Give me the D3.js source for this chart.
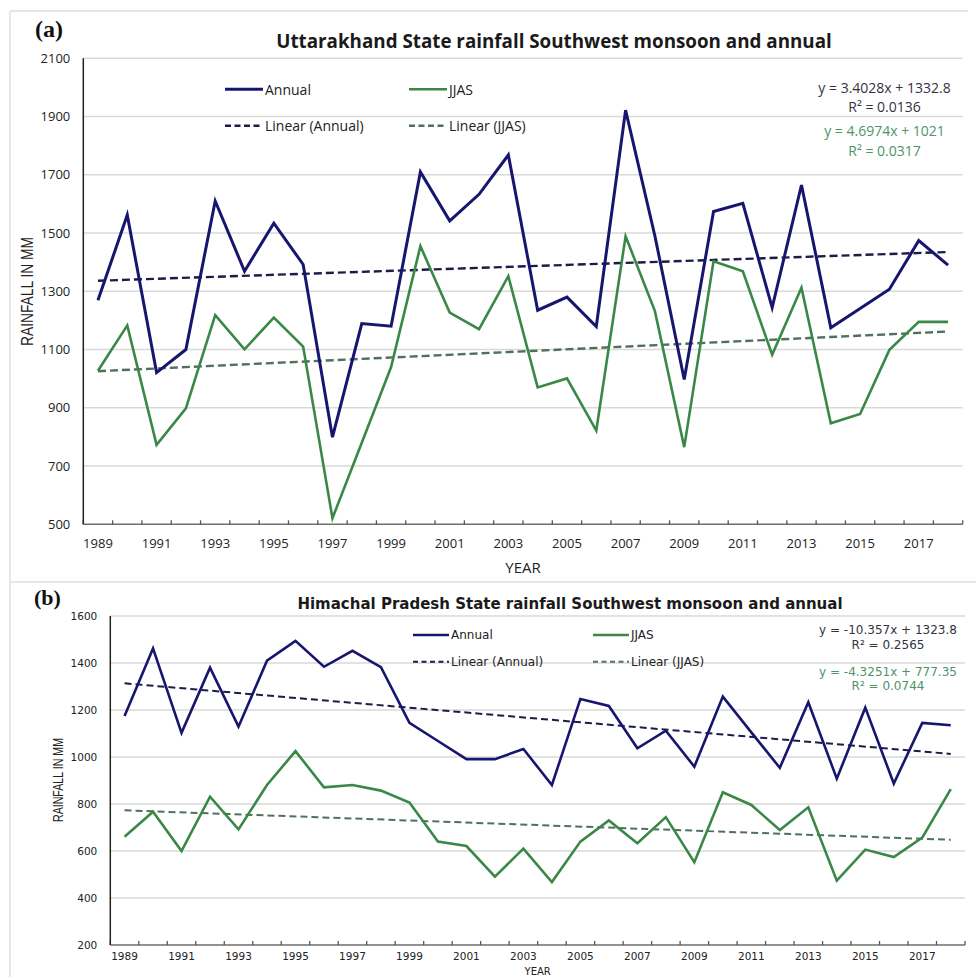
<!DOCTYPE html>
<html>
<head>
<meta charset="utf-8">
<script src="https://cdn.jsdelivr.net/npm/d3@7/dist/d3.min.js"></script>
<style>
  html, body { margin: 0; padding: 0; background: #ffffff; }
  svg { display: block; }
</style>
</head>
<body>
<div id="chart"></div>
<script>
// Rainfall series, 1989–2018 (mm)
const years = [1989,1990,1991,1992,1993,1994,1995,1996,1997,1998,1999,2000,2001,2002,2003,
               2004,2005,2006,2007,2008,2009,2010,2011,2012,2013,2014,2015,2016,2017,2018];
const yearLabels = [1989,1991,1993,1995,1997,1999,2001,2003,2005,2007,2009,2011,2013,2015,2017];

// (a) Uttarakhand
const ukAnnual = [1269,1562,1021,1100,1610,1369,1534,1392,799,1189,1180,1710,1542,1633,1768,
                  1235,1280,1179,1922,1490,997,1574,1602,1244,1665,1175,1241,1307,1474,1390];
const ukJJAS   = [1027,1183,773,898,1218,1101,1210,1110,521,780,1040,1455,1227,1170,1352,
                  970,1001,822,1489,1232,765,1403,1369,1082,1312,847,879,1099,1195,1195];
const ukTicks  = [500,700,900,1100,1300,1500,1700,1900,2100];
const ukTrendAnnual = { slope: 3.4028, intercept: 1332.8, r2: "0.0136", text: "y = 3.4028x + 1332.8" };
const ukTrendJJAS   = { slope: 4.6974, intercept: 1021,   r2: "0.0317", text: "y = 4.6974x + 1021" };

// (b) Himachal Pradesh
const hpAnnual = [1174,1462,1103,1380,1129,1410,1494,1384,1452,1382,1145,1068,991,991,1034,
                  881,1247,1217,1037,1112,959,1257,1105,954,1233,908,1210,887,1145,1135];
const hpJJAS   = [661,767,600,831,692,881,1025,871,881,857,806,640,621,491,610,
                  468,640,730,633,744,552,850,796,689,786,474,606,574,657,863];
const hpTicks  = [200,400,600,800,1000,1200,1400,1600];
const hpTrendAnnual = { slope: -10.357, intercept: 1323.8, r2: "0.2565", text: "y = -10.357x + 1323.8" };
const hpTrendJJAS   = { slope: -4.3251, intercept: 777.35, r2: "0.0744", text: "y = -4.3251x + 777.35" };

const C = {
  annual: "#17166e",
  jjas: "#3a8848",
  trendAnnual: "#1c1c48",
  trendJJAS: "#50705a",
  eqAnnual: "#333340",
  eqJJAS: "#4d9468",
  grid: "#d9d9d9",
  frame: "#e6e6e6"
};

const W = 976, H = 977;
const svg = d3.select("#chart").append("svg")
  .attr("width", W).attr("height", H)
  .attr("viewBox", `0 0 ${W} ${H}`);

// outer frame of the two panels
svg.append("line").attr("x1", 10).attr("x2", 968).attr("y1", 11).attr("y2", 11)
  .attr("stroke", C.frame).attr("stroke-width", 2);
svg.append("line").attr("x1", 10).attr("x2", 10).attr("y1", 11).attr("y2", H)
  .attr("stroke", C.frame).attr("stroke-width", 2);
svg.append("line").attr("x1", 10).attr("x2", W).attr("y1", 582).attr("y2", 582)
  .attr("stroke", C.frame).attr("stroke-width", 2);

function drawPanel(p) {
  const g = svg.append("g");
  const x = d3.scaleBand().domain(years).range([p.x0, p.x1]).padding(0);
  const y = d3.scaleLinear().domain(p.domain).range([p.yBottom, p.yTop]);
  const cx = d => x(d) + x.bandwidth() / 2;

  // horizontal gridlines
  g.append("g").selectAll("line")
    .data(p.ticks.slice(1))
    .join("line")
    .attr("x1", p.x0).attr("x2", p.x1)
    .attr("y1", d => y(d)).attr("y2", d => y(d))
    .attr("stroke", C.grid).attr("stroke-width", 1.5);

  // y axis labels
  const ya = g.append("g").attr("transform", `translate(${p.x0},0)`)
    .call(d3.axisLeft(y).tickValues(p.ticks).tickSize(0).tickPadding(p.yPad).tickFormat(d3.format("d")));
  ya.select(".domain").remove();
  ya.selectAll("text").attr("font-family", p.font).attr("font-size", p.tickSize).attr("fill", "#222");

  // x axis labels (every other year)
  const xa = g.append("g").attr("transform", `translate(0,${p.yBottom})`)
    .call(d3.axisBottom(x).tickValues(yearLabels).tickSize(0).tickPadding(p.xPad));
  xa.select(".domain").remove();
  xa.selectAll("text").attr("font-family", p.font).attr("font-size", p.tickSize).attr("fill", "#222");

  // axis lines and category-boundary tick marks
  g.append("line").attr("x1", p.x0).attr("x2", p.x1).attr("y1", p.yBottom).attr("y2", p.yBottom)
    .attr("stroke", "#6e6e6e").attr("stroke-width", 1.5);
  g.append("g").selectAll("line")
    .data(years.map(d => x(d)).concat([p.x1]))
    .join("line")
    .attr("x1", d => d).attr("x2", d => d)
    .attr("y1", p.yBottom).attr("y2", p.yBottom - 4)
    .attr("stroke", "#555").attr("stroke-width", 1.3);
  g.append("line").attr("x1", p.x0).attr("x2", p.x0).attr("y1", p.yTop).attr("y2", p.yBottom)
    .attr("stroke", "#222").attr("stroke-width", 1.5);

  // linear trend lines from the fitted equations (x = 1 for the first year)
  const trendPath = (t) => {
    const ends = [years[0], years[years.length - 1]];
    return d3.line().x(d => cx(d)).y(d => y(t.slope * (years.indexOf(d) + 1) + t.intercept))(ends);
  };
  g.append("path").attr("d", trendPath(p.trendJJAS))
    .attr("fill", "none").attr("stroke", C.trendJJAS).attr("stroke-width", p.trendWidth)
    .attr("stroke-dasharray", p.dash);
  g.append("path").attr("d", trendPath(p.trend))
    .attr("fill", "none").attr("stroke", C.trendAnnual).attr("stroke-width", p.trendWidth)
    .attr("stroke-dasharray", p.dash);

  // data series
  const line = d3.line().x((d, i) => cx(years[i])).y(d => y(d));
  g.append("path").attr("d", line(p.jjas))
    .attr("fill", "none").attr("stroke", C.jjas).attr("stroke-width", p.jjasWidth)
    .attr("stroke-linejoin", "miter");
  g.append("path").attr("d", line(p.annual))
    .attr("fill", "none").attr("stroke", C.annual).attr("stroke-width", p.annualWidth)
    .attr("stroke-linejoin", "miter");

  // panel letter
  g.append("text").attr("x", p.letterX).attr("y", p.letterY)
    .attr("font-family", "'Liberation Serif', 'Times New Roman', serif")
    .attr("font-weight", "bold").attr("font-size", p.letterSize).attr("fill", "#111")
    .text(p.letter);

  // title
  g.append("text").attr("x", p.titleX).attr("y", p.titleY).attr("text-anchor", "middle")
    .attr("font-family", p.font).attr("font-weight", "bold").attr("font-size", p.titleSize)
    .attr("fill", "#1a1a1a").text(p.title);

  // axis titles
  g.append("text").attr("x", (p.x0 + p.x1) / 2).attr("y", p.xTitleY).attr("text-anchor", "middle")
    .attr("font-family", p.font).attr("font-size", p.xTitleSize).attr("fill", "#222").text("YEAR");
  g.append("text")
    .attr("transform", `translate(${p.yTitleX},${p.yTitleCY}) rotate(-90)`)
    .attr("text-anchor", "middle").attr("dominant-baseline", "central")
    .attr("font-family", "'Liberation Sans Narrow', 'Liberation Sans', Arial, sans-serif")
    .attr("font-size", p.yTitleSize).attr("fill", "#222")
    .attr("textLength", p.yTitleLen).attr("lengthAdjust", "spacingAndGlyphs")
    .text("RAINFALL IN MM");

  // legend
  const L = p.legend;
  const items = [
    { label: "Annual", color: C.annual, dash: null, w: p.annualWidth, x: L.x1, y: L.y1 },
    { label: "JJAS", color: C.jjas, dash: null, w: p.jjasWidth, x: L.x2, y: L.y1 },
    { label: "Linear (Annual)", color: C.trendAnnual, dash: L.dash, w: p.trendWidth, x: L.x1, y: L.y2 },
    { label: "Linear (JJAS)", color: C.trendJJAS, dash: L.dash, w: p.trendWidth, x: L.x2, y: L.y2 }
  ];
  const lg = g.append("g").selectAll("g").data(items).join("g");
  lg.append("line")
    .attr("x1", d => d.x).attr("x2", d => d.x + L.len)
    .attr("y1", d => d.y).attr("y2", d => d.y)
    .attr("stroke", d => d.color).attr("stroke-width", d => d.w)
    .attr("stroke-dasharray", d => d.dash);
  lg.append("text")
    .attr("x", d => d.x + L.len + 2).attr("y", d => d.y)
    .attr("dominant-baseline", "central")
    .attr("font-family", p.font).attr("font-size", L.size).attr("fill", "#222")
    .text(d => d.label);

  // trend equations
  const eq = [
    { t: p.trend.text, c: C.eqAnnual, y: p.eq.y[0] },
    { t: "R\u00B2 = " + p.trend.r2, c: C.eqAnnual, y: p.eq.y[1] },
    { t: p.trendJJAS.text, c: C.eqJJAS, y: p.eq.y[2] },
    { t: "R\u00B2 = " + p.trendJJAS.r2, c: C.eqJJAS, y: p.eq.y[3] }
  ];
  g.append("g").selectAll("text").data(eq).join("text")
    .attr("x", p.eq.x).attr("y", d => d.y)
    .attr("text-anchor", "middle").attr("dominant-baseline", "central")
    .attr("font-family", p.font).attr("font-size", p.eq.size).attr("fill", d => d.c)
    .text(d => d.t);
}

drawPanel({
  x0: 83.3, x1: 962.7, yTop: 58.3, yBottom: 524.3, domain: [500, 2100], ticks: ukTicks,
  annual: ukAnnual, jjas: ukJJAS, trend: ukTrendAnnual, trendJJAS: ukTrendJJAS,
  font: "'Open Sans', sans-serif", tickSize: 13, yPad: 13, xPad: 14,
  annualWidth: 3, jjasWidth: 2.6, trendWidth: 2.4, dash: "8,4",
  letter: "(a)", letterX: 35, letterY: 37, letterSize: 24,
  title: "Uttarakhand State rainfall Southwest monsoon and annual", titleX: 554, titleY: 48, titleSize: 18.8,
  xTitleY: 573, xTitleSize: 15, yTitleX: 27, yTitleCY: 291.5, yTitleSize: 16, yTitleLen: 109,
  legend: { x1: 225, x2: 409, y1: 89.3, y2: 125.7, len: 38, size: 14, dash: "6,3.5" },
  eq: { x: 884.5, y: [87, 106.5, 130.5, 150], size: 14 }
});

drawPanel({
  x0: 110.3, x1: 965, yTop: 616, yBottom: 945, domain: [200, 1600], ticks: hpTicks,
  annual: hpAnnual, jjas: hpJJAS, trend: hpTrendAnnual, trendJJAS: hpTrendJJAS,
  font: "'DejaVu Sans', Verdana, sans-serif", tickSize: 10.5, yPad: 13, xPad: 8,
  annualWidth: 2.6, jjasWidth: 2.6, trendWidth: 2, dash: "7,4",
  letter: "(b)", letterX: 34, letterY: 605, letterSize: 22,
  title: "Himachal Pradesh State rainfall Southwest monsoon and annual", titleX: 570, titleY: 609, titleSize: 15,
  xTitleY: 975, xTitleSize: 10, yTitleX: 57, yTitleCY: 780, yTitleSize: 15, yTitleLen: 84,
  legend: { x1: 413, x2: 593, y1: 635, y2: 661.7, len: 36, size: 12, dash: "5,3.5" },
  eq: { x: 888, y: [630, 644.5, 671.5, 686], size: 12 }
});
</script>
</body>
</html>
